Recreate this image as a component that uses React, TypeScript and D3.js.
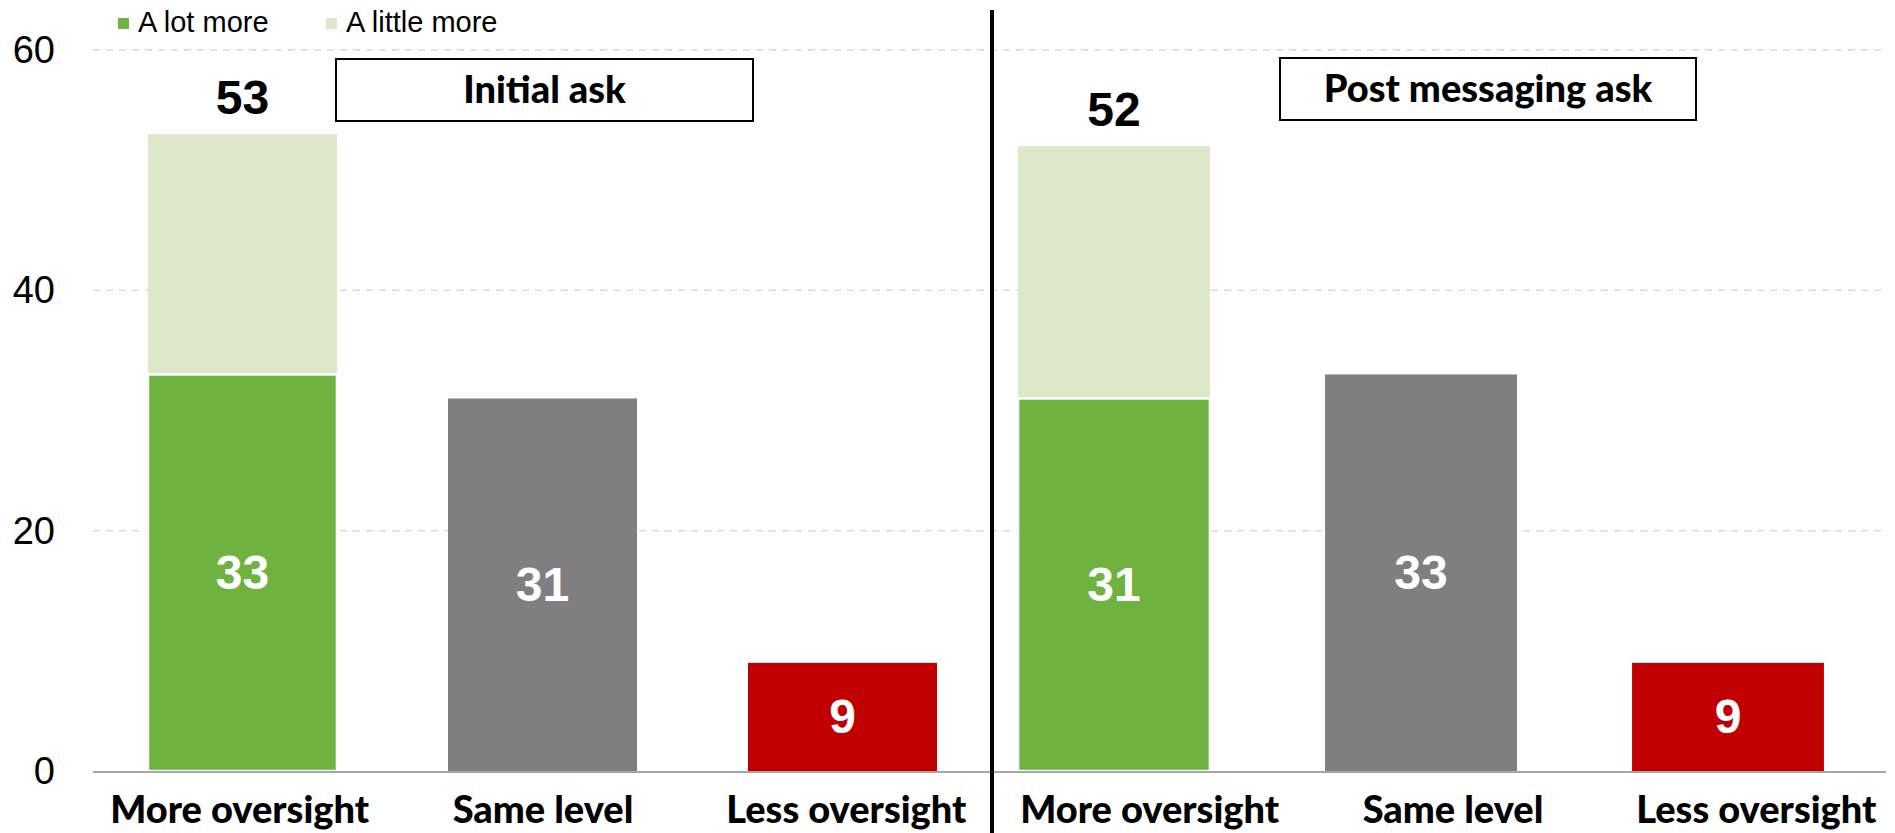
import React from "react";
import * as d3 from "d3";

// Survey results: desired level of oversight, before and after messaging
const panels = ["Initial ask", "Post messaging ask"];
const categories = ["More oversight", "Same level", "Less oversight"];
const aLotMore = [33, 31];
const aLittleMore = [20, 21];
const sameLevel = [31, 33];
const lessOversight = [9, 9];
const yTicks = [0, 20, 40, 60];
const legendItems = ["A lot more", "A little more"];

const W = 1895;
const H = 833;

const COLORS = {
  lot: "#6fb240",
  little: "#dde7ca",
  same: "#7f7f7f",
  less: "#c00000",
};

const ARIAL = "'Liberation Sans', Arial, sans-serif";
const LABEL_FONT = "Lato, 'Open Sans', sans-serif";

export default function App() {
  const y = d3.scaleLinear().domain([0, 60]).range([771, 50]);

  // each panel has its own band scale for the bars
  const panelLayout: { range: [number, number]; pad: number }[] = [
    { range: [92.5, 992.5], pad: 0.37 },
    { range: [960.5, 1881.5], pad: 0.375 },
  ];
  const xPanels = panelLayout.map((p) =>
    d3
      .scaleBand<string>()
      .domain(categories)
      .range(p.range)
      .paddingInner(p.pad)
      .paddingOuter(p.pad / 2)
  );

  // category labels along the bottom run on one shared band scale
  const labelKeys = panels.flatMap((p) => categories.map((c) => `${p}|${c}`));
  const xLabels = d3.scaleBand<string>().domain(labelKeys).range([88, 1908]);

  const boxes = [
    { x0: 336, x1: 753, y0: 59, y1: 121 },
    { x0: 1280, x1: 1696, y0: 58, y1: 120 },
  ];

  const plotLeft = 93;
  const plotRight = 1886;

  return (
    <svg
      width={W}
      height={H}
      style={{ position: "absolute", left: 0, top: 0, display: "block", background: "#fff" }}
    >
      {/* gridlines */}
      {yTicks
        .filter((t) => t > 0)
        .map((t) => (
          <line
            key={t}
            x1={plotLeft}
            x2={plotRight}
            y1={y(t)}
            y2={y(t)}
            stroke="#d9d9d9"
            strokeWidth={1.5}
            strokeDasharray="7,6"
          />
        ))}

      {/* y tick labels */}
      {yTicks.map((t) => (
        <text
          key={t}
          x={55}
          y={y(t)}
          textAnchor="end"
          dominantBaseline="central"
          fontFamily={ARIAL}
          fontSize={38}
          fill="#000"
        >
          {t}
        </text>
      ))}

      {/* bars */}
      {panels.map((p, i) => {
        const x = xPanels[i];
        const bw = x.bandwidth();
        const moreX = x("More oversight")!;
        const sameX = x("Same level")!;
        const lessX = x("Less oversight")!;
        const total = aLotMore[i] + aLittleMore[i];
        return (
          <g key={p}>
            <rect
              x={moreX}
              y={y(total)}
              width={bw}
              height={y(aLotMore[i]) - y(total)}
              fill={COLORS.little}
            />
            <rect
              x={moreX}
              y={y(aLotMore[i])}
              width={bw}
              height={y(0) - y(aLotMore[i])}
              fill={COLORS.lot}
              stroke="#fff"
              strokeWidth={2.5}
            />
            <rect
              x={sameX}
              y={y(sameLevel[i])}
              width={bw}
              height={y(0) - y(sameLevel[i])}
              fill={COLORS.same}
            />
            <rect
              x={lessX}
              y={y(lessOversight[i])}
              width={bw}
              height={y(0) - y(lessOversight[i])}
              fill={COLORS.less}
            />

            {/* values inside bars */}
            {[
              { x0: moreX, v: aLotMore[i] },
              { x0: sameX, v: sameLevel[i] },
              { x0: lessX, v: lessOversight[i] },
            ].map((d, k) => (
              <text
                key={k}
                x={d.x0 + bw / 2}
                y={y(d.v / 2)}
                textAnchor="middle"
                dominantBaseline="central"
                fontFamily={ARIAL}
                fontWeight="bold"
                fontSize={48}
                fill="#fff"
              >
                {d.v}
              </text>
            ))}

            {/* stacked total */}
            <text
              x={moreX + bw / 2}
              y={y(total) - 37}
              textAnchor="middle"
              dominantBaseline="central"
              fontFamily={ARIAL}
              fontWeight="bold"
              fontSize={48}
              fill="#000"
            >
              {total}
            </text>
          </g>
        );
      })}

      {/* baseline */}
      <line x1={plotLeft} x2={plotRight} y1={y(0) + 1} y2={y(0) + 1} stroke="#a6a6a6" strokeWidth={2} />

      {/* category labels */}
      {labelKeys.map((k) => (
        <text
          key={k}
          x={xLabels(k)! + xLabels.bandwidth() / 2}
          y={823}
          textAnchor="middle"
          fontFamily={LABEL_FONT}
          fontWeight={900}
          fontSize={38}
          fill="#000"
        >
          {k.split("|")[1]}
        </text>
      ))}

      {/* panel titles */}
      {panels.map((p, i) => {
        const b = boxes[i];
        return (
          <g key={p}>
            <rect
              x={b.x0}
              y={b.y0}
              width={b.x1 - b.x0}
              height={b.y1 - b.y0}
              fill="#fff"
              stroke="#000"
              strokeWidth={2}
            />
            <text
              x={(b.x0 + b.x1) / 2}
              y={(b.y0 + b.y1) / 2 + 13}
              textAnchor="middle"
              fontFamily={LABEL_FONT}
              fontWeight={900}
              fontSize={38}
              fill="#000"
            >
              {p}
            </text>
          </g>
        );
      })}

      {/* panel divider */}
      <line x1={992} x2={992} y1={10} y2={H} stroke="#000" strokeWidth={4} />

      {/* legend */}
      {legendItems.map((name, i) => {
        const lx = i === 0 ? 118 : 326;
        return (
          <g key={name}>
            <rect x={lx} y={18} width={11} height={11} fill={i === 0 ? COLORS.lot : COLORS.little} />
            <text x={lx + 20} y={32} fontFamily={ARIAL} fontSize={29} fill="#000">
              {name}
            </text>
          </g>
        );
      })}
    </svg>
  );
}
